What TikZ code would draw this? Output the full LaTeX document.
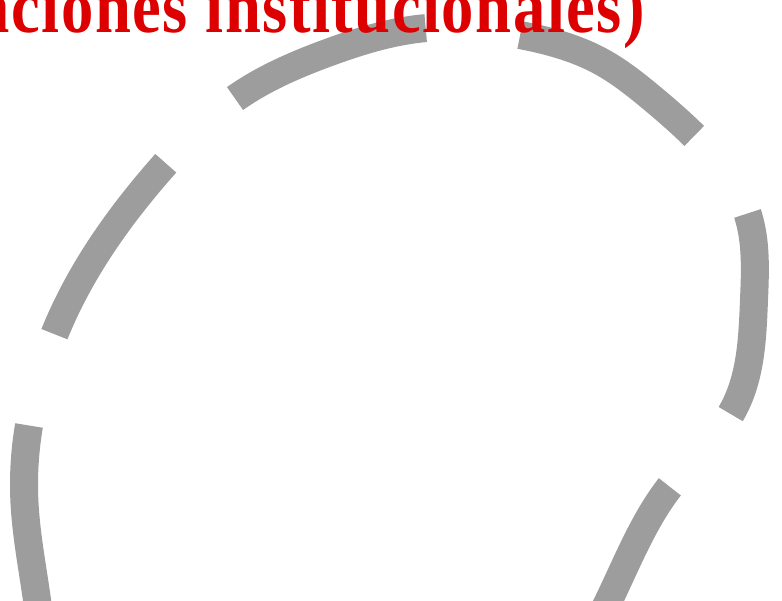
\documentclass[tikz,border=0pt]{standalone}
\usepackage{fontspec}
\newfontfamily\ttlfont{Liberation Serif}[FakeStretch=0.85, LetterSpace=2.0]
\usepackage{xcolor}
\usetikzlibrary{hobby}
\definecolor{riInk}{HTML}{DC0000}
\definecolor{riRim}{HTML}{9D9D9D}
\tikzset{
  rim/.style    = {line width=28pt, color=riRim, dash pattern=on 205pt off 95pt,
                   use Hobby shortcut},
  rimgap/.style = {rim, dash phase=205pt},
  ttl/.style    = {font=\ttlfont\bfseries\fontsize{76}{90}\selectfont, text=riInk,
                   inner sep=0pt},
}

\begin{document}
\begin{tikzpicture}[x=1pt, y=1pt]
\useasboundingbox (0,0) rectangle (782,600);
\clip (0,0) rectangle (782,600);

% the dashed rim, split at the left dash end: down from there, then round
\draw[rim] (29,174.5) .. (24.5,97) .. (36,7) .. (44,-60);
\draw[rimgap] (29,174.5) .. (54.5,266) .. (166,437) .. (236.5,502.5)
  .. (330,548) .. (427,572) .. (520,565) .. (600,539) .. (650,503.5)
  .. (695,463.3) .. (748,385) .. (754,300) .. (733,190) .. (672,116)
  .. (609,0) .. (577,-60);

\node[ttl, anchor=base east] (title) at (645,567) {(relaciones institucionales)};

\end{tikzpicture}
\end{document}
